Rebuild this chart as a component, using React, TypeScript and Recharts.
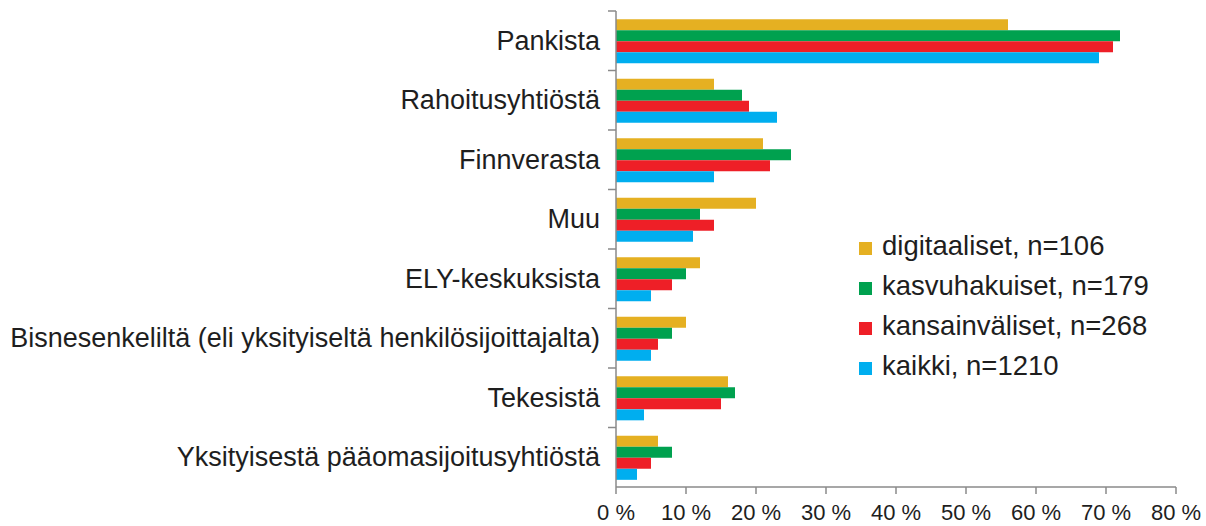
import React from "react";
import { BarChart, Bar, XAxis, YAxis } from "recharts";

const categories = [
  "Pankista",
  "Rahoitusyhtiöstä",
  "Finnverasta",
  "Muu",
  "ELY-keskuksista",
  "Bisnesenkeliltä (eli yksityiseltä henkilösijoittajalta)",
  "Tekesistä",
  "Yksityisestä pääomasijoitusyhtiöstä",
];
const digitaaliset = [56, 14, 21, 20, 12, 10, 16, 6];
const kasvuhakuiset = [72, 18, 25, 12, 10, 8, 17, 8];
const kansainvaliset = [71, 19, 22, 14, 8, 6, 15, 5];
const kaikki = [69, 23, 14, 11, 5, 5, 4, 3];
const xTicks = [0, 10, 20, 30, 40, 50, 60, 70, 80];

const seriesNames = [
  "digitaaliset, n=106",
  "kasvuhakuiset, n=179",
  "kansainväliset, n=268",
  "kaikki, n=1210",
];
const colors = ["#E5B022", "#00A14F", "#EE1F27", "#00AEEF"];

const data = categories.map((c, i) => ({
  name: c,
  d: digitaaliset[i],
  g: kasvuhakuiset[i],
  k: kansainvaliset[i],
  a: kaikki[i],
}));

const FONT = "'Liberation Sans', Arial, sans-serif";
const AXIS = "#8a8a8a";
const TEXT = "#1e1e1e";

const YTick = (props: any) => {
  const { x, y, payload, height } = props;
  const band = (height || 476) / categories.length;
  const axisX = x + 16;
  const top = y - band / 2;
  return (
    <g>
      <line x1={axisX - 8} x2={axisX} y1={top} y2={top} stroke={AXIS} strokeWidth={1.5} />
      <text
        x={x}
        y={y}
        textAnchor="end"
        dominantBaseline="central"
        fontFamily={FONT}
        fontSize={27}
        fill={TEXT}
      >
        {payload.value}
      </text>
    </g>
  );
};

const LegendBox = () => (
  <div
    style={{
      position: "absolute",
      left: 859,
      top: 226,
      fontFamily: FONT,
      fontSize: 27.5,
      color: TEXT,
      whiteSpace: "nowrap",
    }}
  >
    {seriesNames.map((n, i) => (
      <div key={n} style={{ display: "flex", alignItems: "center", height: 40 }}>
        <span
          style={{
            display: "inline-block",
            width: 13,
            height: 13,
            background: colors[i],
            marginRight: 10,
            marginTop: 4,
          }}
        />
        <span>{n}</span>
      </div>
    ))}
  </div>
);

export default function App() {
  return (
    <div style={{ position: "absolute", left: 0, top: 0, width: 1206, height: 526, background: "#fff" }}>
      <BarChart
        width={1206}
        height={526}
        data={data}
        layout="vertical"
        margin={{ top: 11, right: 30, bottom: 0, left: 0 }}
        barCategoryGap="14%"
        barGap={0}
      >
        <XAxis
          type="number"
          domain={[0, 80]}
          ticks={xTicks}
          interval={0}
          tickFormatter={(v: number) => `${v} %`}
          height={39}
          stroke={AXIS}
          strokeWidth={1.5}
          tickSize={7}
          tick={{ fontFamily: FONT, fontSize: 22, fill: TEXT, dy: 8 }}
        />
        <YAxis
          type="category"
          dataKey="name"
          width={616}
          stroke={AXIS}
          strokeWidth={1.5}
          tickLine={false}
          tickSize={0}
          tickMargin={16}
          interval={0}
          tick={<YTick />}
        />
        <Bar dataKey="d" name={seriesNames[0]} fill={colors[0]} isAnimationActive={false} />
        <Bar dataKey="g" name={seriesNames[1]} fill={colors[1]} isAnimationActive={false} />
        <Bar dataKey="k" name={seriesNames[2]} fill={colors[2]} isAnimationActive={false} />
        <Bar dataKey="a" name={seriesNames[3]} fill={colors[3]} isAnimationActive={false} />
      </BarChart>
      <LegendBox />
    </div>
  );
}
